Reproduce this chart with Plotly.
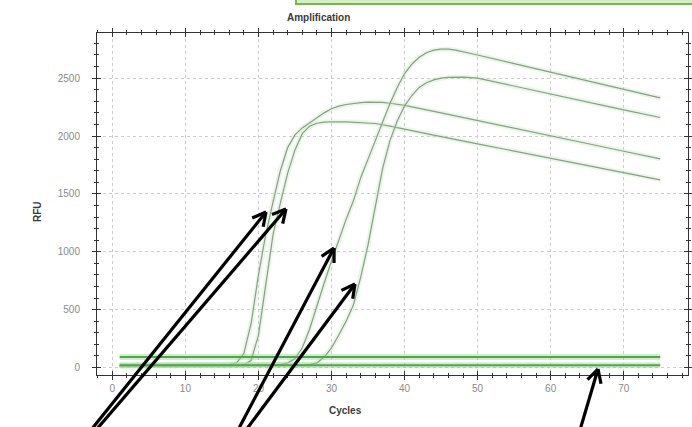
import math
import plotly.graph_objects as go

# ---------------- data ----------------
cycles_a = [1, 5, 10, 14, 15, 16, 17, 18, 19, 20, 21, 22, 23, 24, 25, 26, 27, 28, 29, 30,
            31, 32, 33, 34, 35, 36, 37, 38, 40, 45, 50, 55, 60, 65, 70, 75]
rfu_a = [15, 15, 15, 16, 18, 24, 40, 120, 380, 800, 1150, 1430, 1700, 1900, 2010, 2070, 2115, 2160, 2200, 2235,
         2258, 2272, 2282, 2288, 2292, 2293, 2290, 2283, 2265, 2200, 2135, 2068, 2000, 1935, 1868, 1802]

cycles_b = [1, 5, 10, 15, 17, 18, 19, 20, 21, 22, 23, 24, 25, 26, 27, 28, 29, 30, 32, 34,
            36, 38, 40, 45, 50, 55, 60, 65, 70, 75]
rfu_b = [14, 14, 14, 15, 18, 25, 60, 280, 720, 1150, 1420, 1680, 1880, 2020, 2085, 2110, 2120, 2123, 2122, 2118,
         2108, 2085, 2058, 1995, 1932, 1870, 1808, 1745, 1683, 1621]

cycles_c = [1, 5, 10, 15, 20, 22, 23, 24, 25, 26, 27, 28, 29, 30, 31, 32, 33, 34, 35, 36,
            37, 38, 39, 40, 41, 42, 43, 44, 45, 46, 47, 48, 50, 55, 60, 65, 70, 75]
rfu_c = [16, 16, 16, 16, 17, 18, 25, 40, 75, 170, 330, 540, 730, 920, 1110, 1280, 1440, 1640, 1800, 1960,
         2120, 2280, 2420, 2540, 2620, 2680, 2720, 2742, 2750, 2750, 2742, 2730, 2700, 2625, 2550, 2475, 2400, 2330]

cycles_d = [1, 5, 10, 15, 20, 25, 26, 27, 28, 29, 30, 31, 32, 33, 34, 35, 36, 37, 38, 39,
            40, 41, 42, 43, 44, 45, 46, 48, 50, 55, 60, 65, 70, 75]
rfu_d = [17, 17, 17, 17, 17, 17, 18, 25, 40, 90, 170, 280, 400, 540, 780, 1060, 1400, 1720, 1960, 2130,
         2260, 2350, 2420, 2460, 2485, 2500, 2507, 2508, 2500, 2430, 2360, 2290, 2225, 2160]

cycles_flat = [1, 75]
rfu_flat_hi = [90, 90]
rfu_flat_lo = [20, 20]

x_ticks = [0, 10, 20, 30, 40, 50, 60, 70]
y_ticks = [0, 500, 1000, 1500, 2000, 2500]

# ---------------- geometry ----------------
W, H = 692, 427
L, R, T, B = 97, 4, 33, 52
PW, PH = W - L - R, H - T - B


def px(xp, yp):
    return (xp - L) / PW, (H - B - yp) / PH


fig = go.Figure()

amp_glow = "rgba(190,235,180,0.35)"
amp_core = "#8c9a8c"
for cx, cy in [(cycles_a, rfu_a), (cycles_b, rfu_b), (cycles_c, rfu_c), (cycles_d, rfu_d)]:
    fig.add_trace(go.Scatter(x=cx, y=cy, mode="lines", line=dict(color=amp_glow, width=5),
                             hoverinfo="skip", showlegend=False))
    fig.add_trace(go.Scatter(x=cx, y=cy, mode="lines", line=dict(color=amp_core, width=1.2),
                             showlegend=False))

for fy in [rfu_flat_hi, rfu_flat_lo]:
    fig.add_trace(go.Scatter(x=cycles_flat, y=fy, mode="lines",
                             line=dict(color="rgba(140,210,130,0.4)", width=6),
                             hoverinfo="skip", showlegend=False))
    fig.add_trace(go.Scatter(x=cycles_flat, y=fy, mode="lines",
                             line=dict(color="#52a350", width=2), showlegend=False))

# dummy trace for inside-tick overlay axes
fig.add_trace(go.Scatter(x=[], y=[], xaxis="x2", yaxis="y2", showlegend=False))

xr = [-2.1, 78.8]
yr = [-65, 2890]
tickfont = dict(family="Liberation Sans, Arial, sans-serif", size=10, color="#8a8a8a")

fig.update_layout(
    width=W, height=H,
    margin=dict(l=L, r=R, t=T, b=B, autoexpand=False),
    paper_bgcolor="white", plot_bgcolor="white",
    showlegend=False,
    xaxis=dict(range=xr, tickvals=x_ticks, ticks="outside", ticklen=4, tickcolor="#333",
               showline=True, linecolor="#333", linewidth=1, mirror="ticks", automargin=False,
               showgrid=True, gridcolor="#cccccc", griddash="dot", gridwidth=1,
               zeroline=False, tickfont=tickfont,
               minor=dict(dtick=2, tick0=0, ticks="outside", ticklen=2, tickcolor="#333", showgrid=False)),
    yaxis=dict(range=yr, tickvals=y_ticks, ticks="outside", ticklen=4, tickcolor="#333",
               showline=True, linecolor="#333", linewidth=1, mirror="ticks", automargin=False,
               showgrid=True, gridcolor="#cccccc", griddash="dot", gridwidth=1,
               zeroline=False, tickfont=tickfont, ticklabelstandoff=10,
               minor=dict(dtick=100, tick0=0, ticks="outside", ticklen=2, tickcolor="#333", showgrid=False)),
    xaxis2=dict(range=xr, overlaying="x", anchor="y2", tickvals=x_ticks, ticks="inside", ticklen=4,
                tickcolor="#333", showticklabels=False, showgrid=False, zeroline=False, mirror="ticks",
                showline=False, automargin=False,
                minor=dict(dtick=2, tick0=0, ticks="inside", ticklen=2, tickcolor="#333", showgrid=False)),
    yaxis2=dict(range=yr, overlaying="y", anchor="x2", tickvals=y_ticks, ticks="inside", ticklen=4,
                tickcolor="#333", showticklabels=False, showgrid=False, zeroline=False, mirror="ticks",
                showline=False, automargin=False,
                minor=dict(dtick=100, tick0=0, ticks="inside", ticklen=2, tickcolor="#333", showgrid=False)),
)

lab = dict(family="Liberation Sans, Arial, sans-serif", size=10, color="#3a3a3a")
ax_, ay_ = px(318, 17)
fig.add_annotation(text="<b>Amplification</b>", x=ax_, y=ay_, xref="paper", yref="paper",
                   showarrow=False, font=lab, xanchor="center", yanchor="middle")
cx_, cy_ = px(345, 411)
fig.add_annotation(text="<b>Cycles</b>", x=cx_, y=cy_, xref="paper", yref="paper",
                   showarrow=False, font=lab, xanchor="center", yanchor="middle")
rx_, ry_ = px(37, 212)
fig.add_annotation(text="<b>RFU</b>", x=rx_, y=ry_, xref="paper", yref="paper", textangle=-90,
                   showarrow=False, font=lab, xanchor="center", yanchor="middle")

# green box at top (part of the screenshot)
bx0, by0 = px(296, -6)
bx1, by1 = px(696, 4)
fig.add_shape(type="rect", xref="paper", yref="paper", x0=bx0, x1=bx1, y0=by1, y1=by0,
              fillcolor="#d5efc4", line=dict(color="#78b552", width=2), layer="above")

# hand-drawn black arrows


def arrow(tail, tip, head=15, ang=28):
    tx, ty = tail
    hx, hy = tip
    x0, y0 = px(tx, ty)
    x1, y1 = px(hx, hy)
    fig.add_shape(type="line", xref="paper", yref="paper", x0=x0, y0=y0, x1=x1, y1=y1,
                  line=dict(color="black", width=3.2), layer="above")
    d = math.atan2(ty - hy, tx - hx)
    for s in (-1, 1):
        a = d + s * math.radians(ang)
        ex, ey = hx + head * math.cos(a), hy + head * math.sin(a)
        e0, e1 = px(ex, ey)
        fig.add_shape(type="line", xref="paper", yref="paper", x0=x1, y0=y1, x1=e0, y1=e1,
                      line=dict(color="black", width=3.2), layer="above")


arrow((91, 430), (266, 212))
arrow((96, 430), (286, 209))
arrow((238, 430), (334, 248))
arrow((246, 430), (355, 284))
arrow((580, 430), (598, 369))

fig.write_html("out.html", config={"displayModeBar": False},
               post_script="document.body.style.margin='0px';document.body.style.overflow='hidden';")
